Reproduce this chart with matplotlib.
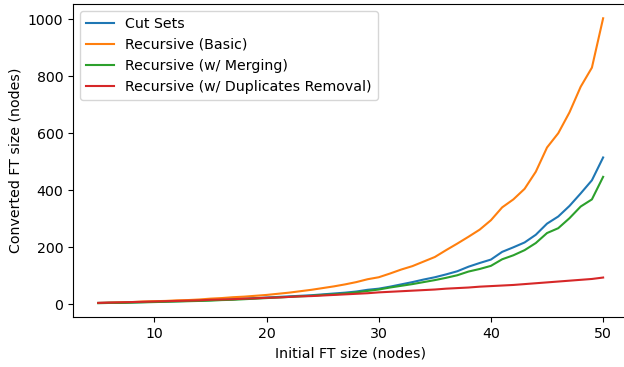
import matplotlib
matplotlib.use("Agg")
import matplotlib.pyplot as plt

plt.rcParams["font.size"] = 10.2

x = list(range(5, 51))

cut_sets = [5, 6, 6, 7, 8, 9, 10, 11, 12, 13, 15, 16, 18, 20, 22, 24, 26, 28, 30, 32,
            35, 38, 41, 45, 51, 55, 62, 70, 78, 87, 95, 105, 116, 132, 145, 157, 184,
            200, 217, 244, 283, 308, 345, 389, 435, 515]
rec_basic = [5, 6, 7, 8, 10, 11, 12, 14, 15, 17, 20, 22, 25, 27, 30, 33, 37, 41, 46, 51,
             57, 63, 70, 78, 88, 95, 108, 122, 134, 150, 166, 190, 213, 237, 262, 295,
             340, 368, 405, 465, 550, 600, 673, 763, 830, 1003]
rec_merging = [4, 5, 5, 6, 7, 8, 9, 10, 11, 12, 13, 15, 16, 18, 20, 22, 24, 26, 28, 30,
               33, 35, 38, 42, 47, 52, 59, 65, 71, 78, 85, 93, 102, 115, 124, 135, 158,
               172, 190, 215, 250, 267, 302, 343, 368, 447]
rec_dup = [5, 6, 7, 8, 9, 10, 11, 12, 13, 14, 16, 17, 18, 20, 21, 23, 24, 26, 28, 29,
           31, 33, 35, 37, 39, 42, 44, 46, 48, 50, 52, 55, 57, 59, 62, 64, 66, 68, 71,
           74, 77, 80, 83, 86, 89, 94]

labels = ["Cut Sets", "Recursive (Basic)", "Recursive (w/ Merging)",
          "Recursive (w/ Duplicates Removal)"]

fig = plt.figure(figsize=(6.24, 3.67), dpi=100)
ax = fig.add_axes([0.117, 0.135, 0.890, 0.854])
for ys, lab in zip([cut_sets, rec_basic, rec_merging, rec_dup], labels):
    ax.plot(x, ys, label=lab)
ax.set_xlabel("Initial FT size (nodes)")
ax.set_ylabel("Converted FT size (nodes)")
ax.legend(loc="upper left")
fig.savefig("out.png", dpi=100)
